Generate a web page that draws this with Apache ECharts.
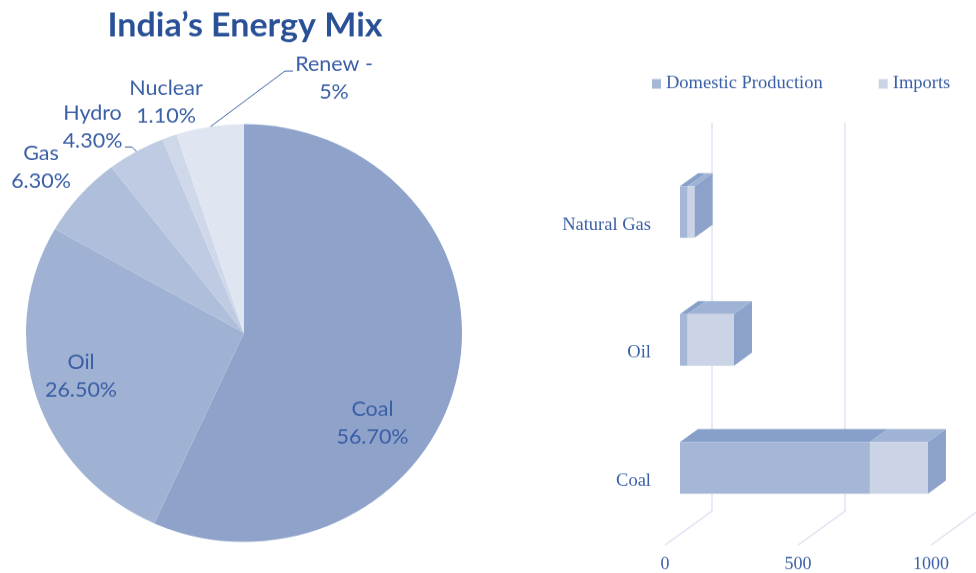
<!DOCTYPE html>
<html><head><meta charset="utf-8">
<style>html,body{margin:0;padding:0;background:#fff;overflow:hidden;width:976px;height:573px}
#c{width:976px;height:598px;transform:scaleY(0.95819);transform-origin:0 0}</style>
<script src="https://cdn.jsdelivr.net/npm/echarts@6/dist/echarts.min.js"></script>
</head><body><div id="c"></div>
<script>
const mixNames = ['Coal','Oil','Gas','Hydro','Nuclear','Renew'];
const mixValues = [56.7,26.5,6.3,4.3,1.1,5];
const mixLabels = ['Coal\n56.70%','Oil\n26.50%','Gas\n6.30%','Hydro\n4.30%','Nuclear\n1.10%','Renew -\n5%'];
const categories = ['Coal','Oil','Natural Gas'];
const domestic = [714,29,29];
const imports = [218,174,26];
const ticks = [0,500,1000];

const k = 573/598;
const Y = v => v/k;
const pieColors = ['#8FA2CA','#A0B2D3','#AFBEDB','#BECBE2','#CFD8E9','#DFE5F1'];
const labelPos = [[372.5,423],[81,376],[41,167],[92.5,127],[166,102],[334,78]];
const leaders = {3:[[137,152],[132,147],[125,147]],5:[[210,127],[285,71],[293,71]]};
const textBlue = '#3A5FA6';
const depthX = 18, depthY = Y(-13);

function poly(points, fill){
  return {type:'polygon',shape:{points},style:{fill}};
}
function barRenderer(colors, withSide){
  return function(params, api){
    const cat = api.value(1), start = api.value(2), end = api.value(0);
    const a = api.coord([start,cat]), b = api.coord([end,cat]);
    const h = api.size([0,1])[1]*0.403;
    const t = a[1]-h/2, m = a[1]+h/2, x0 = a[0], x1 = b[0];
    const children = [
      poly([[x0,t],[x0+depthX,t+depthY],[x1+depthX,t+depthY],[x1,t]],colors.top),
      {type:'rect',shape:{x:x0,y:t,width:x1-x0,height:h},style:{fill:colors.front}}
    ];
    if(withSide) children.push(poly([[x1,t],[x1+depthX,t+depthY],[x1+depthX,m+depthY],[x1,m]],colors.side));
    return {type:'group',children};
  };
}
function wallRenderer(params, api){
  const x = api.coord([api.value(0),0])[0];
  return {type:'polyline',shape:{points:[[x+32,Y(123)],[x+32,Y(511)],[x-15,Y(545)]]},
    style:{fill:'none',stroke:'#DFE5F2',lineWidth:1.5}};
}

const chart = echarts.init(document.getElementById('c'),null,{renderer:'canvas',width:976,height:598});
chart.setOption({
  animation:false,
  backgroundColor:'#fff',
  title:{text:'India’s Energy Mix',left:240,top:5,textAlign:'center',
    textStyle:{fontFamily:'Lato',fontWeight:'bold',fontSize:34,color:'#2A5197'}},
  legend:{left:652,top:78,padding:0,icon:'rect',itemWidth:9,itemHeight:10,itemGap:56,
    data:['Domestic Production','Imports'],
    textStyle:{fontFamily:'Liberation Serif',fontSize:18.5,color:textBlue}},
  grid:{left:680,width:266,top:Y(148),height:Y(387)},
  xAxis:{type:'value',min:0,max:1000,interval:500,
    axisLine:{show:false},axisTick:{show:false},splitLine:{show:false},
    axisLabel:{margin:25,padding:[0,30,0,0],formatter:v=>String(v),fontFamily:'Liberation Serif',fontSize:18,color:textBlue}},
  yAxis:{type:'category',data:categories,
    axisLine:{show:false},axisTick:{show:false},splitLine:{show:false},
    axisLabel:{margin:29,verticalAlign:'top',padding:[4,0,0,0],fontFamily:'Liberation Serif',fontSize:18.5,color:textBlue}},
  series:[
    {type:'custom',name:'Walls',silent:true,z:1,clip:false,renderItem:wallRenderer,
      data:ticks.map(v=>[v]),encode:{x:0}},
    {type:'custom',name:'Domestic Production',z:2,clip:false,itemStyle:{color:'#A5B6D6'},
      renderItem:barRenderer({front:'#A5B6D6',top:'#87A0C9'},false),
      data:domestic.map((v,i)=>[v,i,0]),encode:{x:0,y:1}},
    {type:'custom',name:'Imports',z:3,clip:false,itemStyle:{color:'#CBD4E7'},
      renderItem:barRenderer({front:'#CBD4E7',top:'#9FB3D5',side:'#8DA2CA'},true),
      data:imports.map((v,i)=>[v+domestic[i],i,domestic[i]]),encode:{x:0,y:1}},
    {type:'pie',name:'India’s Energy Mix',center:[244,Y(333)],radius:218,startAngle:90,clockwise:true,
      avoidLabelOverlap:false,silent:true,
      data:mixNames.map((n,i)=>({name:n,value:mixValues[i],itemStyle:{color:pieColors[i]},
        labelLine:{show:!!leaders[i]}})),
      label:{formatter:p=>mixLabels[p.dataIndex],fontFamily:'Lato',fontSize:21.5,lineHeight:29,color:textBlue,align:'center'},
      labelLine:{lineStyle:{color:'#3A5FA6',width:1}},
      labelLayout:p=>({x:labelPos[p.dataIndex][0],y:Y(labelPos[p.dataIndex][1]),align:'center',verticalAlign:'middle',
        labelLinePoints:leaders[p.dataIndex]&&leaders[p.dataIndex].map(q=>[q[0],Y(q[1])])})
    }
  ]
});
</script></body></html>
